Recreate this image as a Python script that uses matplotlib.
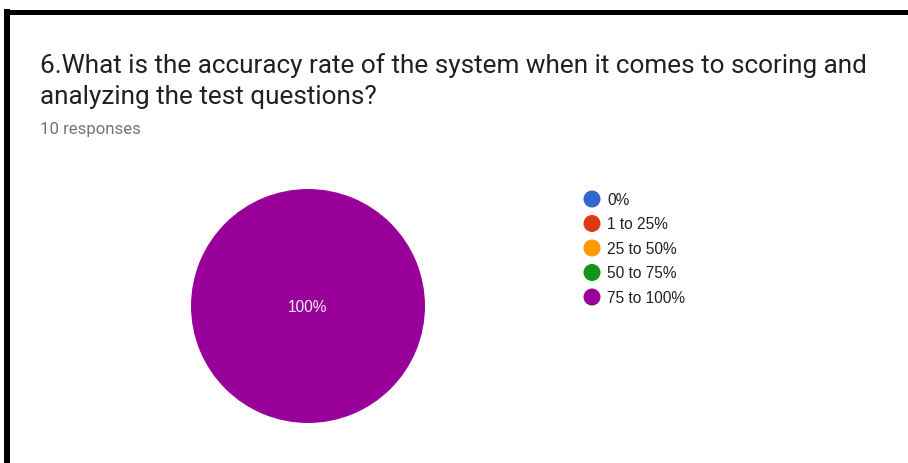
import matplotlib.pyplot as plt

# survey data
question = ("6.What is the accuracy rate of the system when it comes to scoring and\n"
            "analyzing the test questions?")
n_responses = 10
categories = ["0%", "1 to 25%", "25 to 50%", "50 to 75%", "75 to 100%"]
counts = [0, 0, 0, 0, 10]
colors = ["#3366cc", "#dc3912", "#ff9900", "#109618", "#990099"]

W, H = 908, 464
fig = plt.figure(figsize=(W / 100, H / 100), dpi=100)
plt.rcParams["font.family"] = ["Roboto", "DejaVu Sans"]
chart_font = ["Liberation Sans", "DejaVu Sans"]

# overlay in pixel coordinates for text, frame and legend
bg = fig.add_axes([0, 0, 1, 1])
bg.set_xlim(0, W)
bg.set_ylim(H, 0)
bg.axis("off")

# black frame (top and left edges only, as in the screenshot)
bg.plot([4, W], [12.5, 12.5], color="black", lw=3.6, solid_capstyle="butt")
bg.plot([7, 7], [10, H], color="black", lw=4.3, solid_capstyle="butt")

lines = question.split("\n")
for i, line in enumerate(lines):
    bg.text(40, 73 + i * 31, line, fontsize=18.8, color="#202124", va="baseline")
bg.text(40, 134, f"{n_responses} responses", fontsize=12.1, color="#70757a", va="baseline")

# legend
for i, (cat, col) in enumerate(zip(categories, colors)):
    y = 200 + i * 24.5
    bg.scatter([592], [y], s=150, color=col, edgecolors="none")
    bg.text(607, y + 4.8, cat, fontsize=11.2, color="#222222", va="baseline",
            family=chart_font)

# pie
r = 117
cx, cy = 308, 307
ax = fig.add_axes([(cx - r) / W, (H - cy - r) / H, 2 * r / W, 2 * r / H])


def pct(p):
    return f"{p:.0f}%" if p > 0 else ""


ax.pie(counts, colors=colors, startangle=90, counterclock=False, radius=1,
       autopct=pct, pctdistance=0.0,
       textprops=dict(color="#f0f0f0", fontsize=11.2, family=chart_font),
       wedgeprops=dict(linewidth=0))
ax.set_xlim(-1, 1)
ax.set_ylim(-1, 1)
ax.set_aspect("auto")
ax.axis("off")

fig.savefig("out.png", dpi=100)
